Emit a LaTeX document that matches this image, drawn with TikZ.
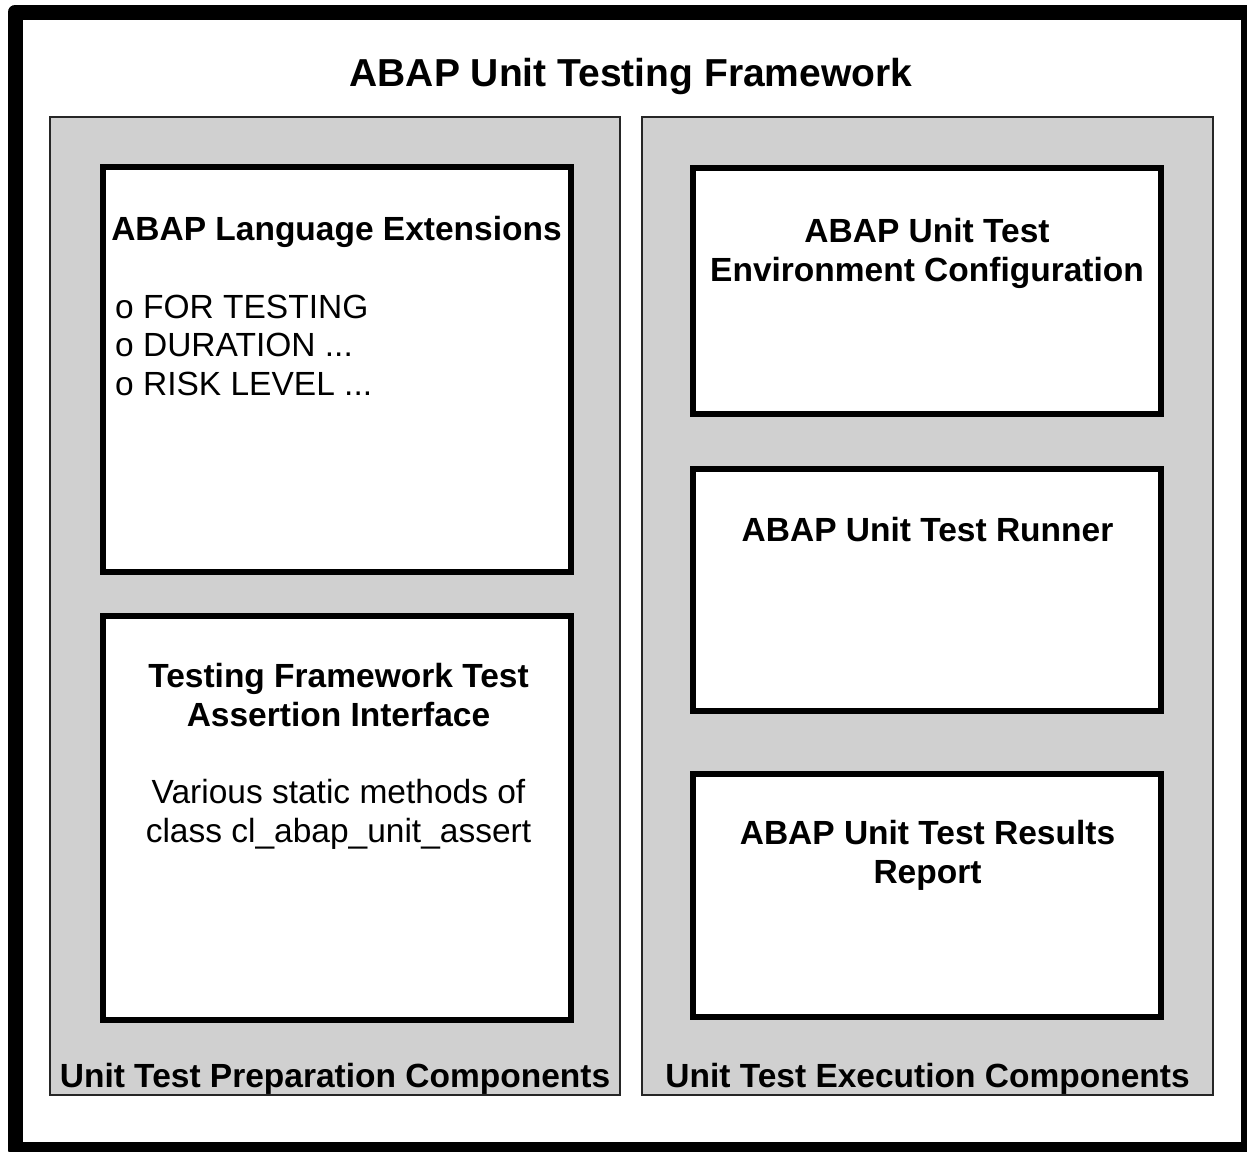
\documentclass[tikz,border=0pt]{standalone}
\usepackage{fontspec}
\setmainfont{Liberation Sans}
\definecolor{panelgray}{RGB}{208,208,208}
\begin{document}
\begin{tikzpicture}[x=1pt,y=-1pt,
  frame/.style={draw=black, line width=15pt, line join=round, inner sep=0pt},
  panel/.style={draw=black!85, line width=1.8pt, fill=panelgray, inner sep=0pt},
  card/.style={draw=black, line width=6pt, fill=white, inner sep=0pt},
  head/.style={font=\bfseries\fontsize{33.5}{38.5}\selectfont, align=center, anchor=base, inner sep=0pt},
  body/.style={font=\fontsize{33.5}{38.5}\selectfont, align=center, anchor=base, inner sep=0pt},
  title/.style={font=\bfseries\fontsize{39}{45}\selectfont, anchor=base, inner sep=0pt}]
\useasboundingbox (0,0) rectangle (1247,1151);
\fill[white] (0,0) rectangle (1247,1151);

% outer frame (partly cut by the page edge on the right and bottom)
\begin{scope}
  \clip (0,0) rectangle (1247,1151);
  \node[frame, minimum width=1233.5pt, minimum height=1137.5pt] (outer) at (631.75,580.75) {};
\end{scope}
\node[title] (ttl) at (631,86) {ABAP Unit Testing Framework};

% the two grey component panels
\node[panel, minimum width=570pt, minimum height=978pt] (prep) at (335,606) {};
\node[panel, minimum width=571pt, minimum height=978pt] (exec) at (927.5,606) {};

% white component cards
\node[card, minimum width=467.5pt, minimum height=405pt] (lang) at (336.75,369.5) {};
\node[card, minimum width=467.5pt, minimum height=404pt] (assert) at (336.75,818) {};
\node[card, minimum width=467.5pt, minimum height=246pt] (env) at (926.75,291) {};
\node[card, minimum width=467.5pt, minimum height=242pt] (runner) at (926.75,590) {};
\node[card, minimum width=467.5pt, minimum height=243pt] (report) at (926.75,895.5) {};

% card texts (a multi-line node sits on the baseline of its last line)
\node[head] (langT) at (336.5,240) {ABAP Language Extensions};
\node[body, align=left, anchor=base west] (langB) at (115,395)
  {o FOR TESTING\\o DURATION ...\\o RISK LEVEL ...};
\node[head] (assertT) at (338.5,726) {Testing Framework Test\\Assertion Interface};
\node[body] (assertB) at (338.5,842) {Various static methods of\\class cl\_abap\_unit\_assert};
\node[head] (envT) at (927,281) {ABAP Unit Test\\Environment Configuration};
\node[head] (runT) at (927.5,541) {ABAP Unit Test Runner};
\node[head] (repT) at (927.5,883) {ABAP Unit Test Results\\Report};

% panel captions
\node[head] (prepT) at (335,1087) {Unit Test Preparation Components};
\node[head] (execT) at (927.5,1087) {Unit Test Execution Components};
\end{tikzpicture}
\end{document}
